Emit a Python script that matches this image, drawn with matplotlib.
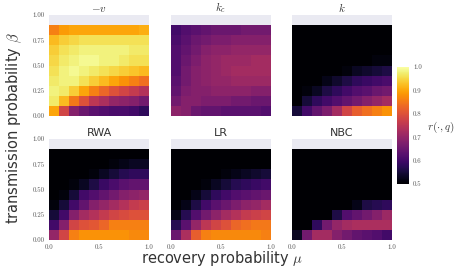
import numpy as np
import matplotlib
matplotlib.use("Agg")
import matplotlib.pyplot as plt

plt.rcParams['mathtext.fontset'] = 'cm'
plt.rcParams['font.family'] = ['DejaVu Sans']

mu_edges = [0.0, 0.1, 0.2, 0.3, 0.4, 0.5, 0.6, 0.7, 0.8, 0.9, 1.0]
beta_edges = [0.0, 0.1, 0.2, 0.3, 0.4, 0.5, 0.6, 0.7, 0.8, 0.9]

titles = ["$-v$", "$k_c$", "$k$", "RWA", "LR", "NBC"]
xtick_vals = [0.0, 0.5, 1.0]
xtick_labels = ["0.0", "0.5", "1.0"]
ytick_vals = [0.0, 0.25, 0.5, 0.75, 1.0]
ytick_labels = ["0.00", "0.25", "0.50", "0.75", "1.00"]
cbar_ticks = [0.5, 0.6, 0.7, 0.8, 0.9, 1.0]

# rows: beta = 0.0 (bottom) ... 0.8 (top); columns: mu = 0.0 ... 0.9
neg_v = [
    [0.90, 0.78, 0.68, 0.65, 0.63, 0.62, 0.61, 0.61, 0.60, 0.58],
    [0.97, 0.92, 0.85, 0.80, 0.75, 0.73, 0.70, 0.69, 0.68, 0.66],
    [0.98, 0.97, 0.94, 0.90, 0.86, 0.83, 0.80, 0.78, 0.76, 0.74],
    [0.97, 0.98, 0.98, 0.96, 0.94, 0.92, 0.90, 0.88, 0.86, 0.84],
    [0.96, 0.98, 0.99, 0.98, 0.97, 0.96, 0.95, 0.94, 0.93, 0.92],
    [0.95, 0.97, 0.98, 0.99, 0.99, 0.98, 0.98, 0.97, 0.96, 0.96],
    [0.94, 0.96, 0.97, 0.98, 0.98, 0.98, 0.98, 0.98, 0.97, 0.97],
    [0.92, 0.94, 0.95, 0.96, 0.96, 0.96, 0.96, 0.96, 0.96, 0.96],
    [0.86, 0.89, 0.90, 0.90, 0.90, 0.90, 0.90, 0.90, 0.90, 0.91],
]
k_c = [
    [0.69, 0.68, 0.65, 0.64, 0.64, 0.63, 0.63, 0.63, 0.63, 0.62],
    [0.66, 0.68, 0.68, 0.67, 0.67, 0.67, 0.66, 0.66, 0.65, 0.65],
    [0.64, 0.67, 0.68, 0.68, 0.69, 0.69, 0.69, 0.69, 0.68, 0.68],
    [0.63, 0.66, 0.68, 0.69, 0.70, 0.70, 0.71, 0.71, 0.71, 0.71],
    [0.62, 0.66, 0.68, 0.69, 0.70, 0.71, 0.72, 0.72, 0.72, 0.72],
    [0.62, 0.65, 0.67, 0.69, 0.70, 0.71, 0.71, 0.71, 0.72, 0.72],
    [0.62, 0.64, 0.66, 0.68, 0.69, 0.69, 0.70, 0.70, 0.70, 0.70],
    [0.61, 0.63, 0.65, 0.66, 0.67, 0.67, 0.68, 0.68, 0.68, 0.68],
    [0.60, 0.62, 0.63, 0.64, 0.65, 0.65, 0.65, 0.66, 0.66, 0.66],
]
k_deg = [
    [0.55, 0.60, 0.64, 0.67, 0.72, 0.78, 0.82, 0.84, 0.86, 0.88],
    [0.50, 0.55, 0.58, 0.60, 0.62, 0.64, 0.66, 0.68, 0.70, 0.72],
    [0.50, 0.51, 0.53, 0.56, 0.58, 0.60, 0.62, 0.63, 0.65, 0.66],
    [0.50, 0.50, 0.50, 0.52, 0.54, 0.56, 0.58, 0.59, 0.60, 0.61],
    [0.50, 0.50, 0.50, 0.50, 0.50, 0.51, 0.53, 0.54, 0.55, 0.56],
    [0.50, 0.50, 0.50, 0.50, 0.50, 0.50, 0.50, 0.50, 0.51, 0.51],
    [0.50, 0.50, 0.50, 0.50, 0.50, 0.50, 0.50, 0.50, 0.50, 0.50],
    [0.50, 0.50, 0.50, 0.50, 0.50, 0.50, 0.50, 0.50, 0.50, 0.50],
    [0.50, 0.50, 0.50, 0.50, 0.50, 0.50, 0.50, 0.50, 0.50, 0.50],
]
rwa = [
    [0.70, 0.78, 0.86, 0.88, 0.88, 0.88, 0.88, 0.88, 0.87, 0.87],
    [0.60, 0.68, 0.78, 0.80, 0.81, 0.83, 0.86, 0.86, 0.86, 0.86],
    [0.55, 0.60, 0.68, 0.72, 0.74, 0.76, 0.78, 0.79, 0.80, 0.80],
    [0.51, 0.55, 0.60, 0.64, 0.68, 0.70, 0.72, 0.74, 0.76, 0.77],
    [0.50, 0.51, 0.55, 0.60, 0.62, 0.64, 0.66, 0.68, 0.69, 0.70],
    [0.50, 0.50, 0.51, 0.53, 0.56, 0.59, 0.61, 0.63, 0.64, 0.64],
    [0.50, 0.50, 0.50, 0.50, 0.51, 0.53, 0.55, 0.57, 0.58, 0.58],
    [0.50, 0.50, 0.50, 0.50, 0.50, 0.50, 0.51, 0.52, 0.53, 0.53],
    [0.50, 0.50, 0.50, 0.50, 0.50, 0.50, 0.50, 0.50, 0.50, 0.50],
]
lr = [
    [0.65, 0.73, 0.82, 0.86, 0.87, 0.87, 0.87, 0.87, 0.87, 0.86],
    [0.57, 0.63, 0.70, 0.75, 0.78, 0.80, 0.83, 0.84, 0.85, 0.85],
    [0.52, 0.57, 0.62, 0.66, 0.69, 0.72, 0.74, 0.76, 0.77, 0.78],
    [0.50, 0.52, 0.56, 0.60, 0.63, 0.65, 0.67, 0.69, 0.70, 0.72],
    [0.50, 0.50, 0.52, 0.55, 0.58, 0.60, 0.62, 0.63, 0.64, 0.65],
    [0.50, 0.50, 0.50, 0.51, 0.53, 0.55, 0.57, 0.58, 0.59, 0.60],
    [0.50, 0.50, 0.50, 0.50, 0.50, 0.51, 0.52, 0.53, 0.54, 0.55],
    [0.50, 0.50, 0.50, 0.50, 0.50, 0.50, 0.50, 0.50, 0.50, 0.50],
    [0.50, 0.50, 0.50, 0.50, 0.50, 0.50, 0.50, 0.50, 0.50, 0.50],
]
nbc = [
    [0.53, 0.66, 0.72, 0.72, 0.68, 0.66, 0.64, 0.63, 0.62, 0.60],
    [0.50, 0.50, 0.58, 0.66, 0.70, 0.72, 0.73, 0.73, 0.73, 0.73],
    [0.50, 0.50, 0.50, 0.50, 0.56, 0.62, 0.64, 0.66, 0.68, 0.71],
    [0.50, 0.50, 0.50, 0.50, 0.50, 0.50, 0.52, 0.56, 0.57, 0.58],
    [0.50, 0.50, 0.50, 0.50, 0.50, 0.50, 0.50, 0.50, 0.50, 0.50],
    [0.50, 0.50, 0.50, 0.50, 0.50, 0.50, 0.50, 0.50, 0.50, 0.50],
    [0.50, 0.50, 0.50, 0.50, 0.50, 0.50, 0.50, 0.50, 0.50, 0.50],
    [0.50, 0.50, 0.50, 0.50, 0.50, 0.50, 0.50, 0.50, 0.50, 0.50],
    [0.50, 0.50, 0.50, 0.50, 0.50, 0.50, 0.50, 0.50, 0.50, 0.50],
]
panels = [neg_v, k_c, k_deg, rwa, lr, nbc]

W, H = 457, 272
fig = plt.figure(figsize=(W / 100, H / 100), dpi=100)

lefts = [49, 171, 292]
tops = [15, 139]
aw, ah = 100, 101
bg = '#EAEAF2'

mesh = None
for i, data in enumerate(panels):
    r, c = divmod(i, 3)
    ax = fig.add_axes([lefts[c] / W, 1 - (tops[r] + ah) / H, aw / W, ah / H])
    ax.set_facecolor(bg)
    mesh = ax.pcolormesh(mu_edges, beta_edges, np.array(data), cmap='inferno',
                         vmin=0.5, vmax=1.0, shading='flat')
    ax.set_xlim(0, 1)
    ax.set_ylim(0, 1)
    for s in ax.spines.values():
        s.set_visible(False)
    ax.tick_params(length=0, pad=3)
    if r == 1:
        ax.set_xticks(xtick_vals)
        ax.set_xticklabels(xtick_labels, fontfamily='cmr10', fontsize=5, color='#555555')
    else:
        ax.set_xticks([])
    if c == 0:
        ax.set_yticks(ytick_vals)
        ax.set_yticklabels(ytick_labels, fontfamily='cmr10', fontsize=5, color='#555555')
    else:
        ax.set_yticks([])
    ax.set_title(titles[i], fontsize=8, pad=2, color='#333333')

cax = fig.add_axes([397 / W, 1 - 184 / H, 12 / W, 117 / H])
cb = fig.colorbar(mesh, cax=cax, ticks=cbar_ticks)
cb.outline.set_visible(False)
cax.tick_params(length=0, pad=3)
cax.set_yticklabels([f"{t:.1f}" for t in cbar_ticks], fontfamily='cmr10', fontsize=5, color='#555555')
fig.text(427 / W, 1 - 127 / H, r"$r(\cdot, q)$", fontsize=8, color='#444444', va='center', ha='left')

fig.text(14 / W, 0.53, r"transmission probability $\beta$", rotation=90, fontsize=10.5,
         color='#333333', ha='center', va='center')
fig.text(222 / W, 1 - 258 / H, r"recovery probability $\mu$", fontsize=10.5,
         color='#333333', ha='center', va='center')

fig.savefig("out.png", dpi=100)
